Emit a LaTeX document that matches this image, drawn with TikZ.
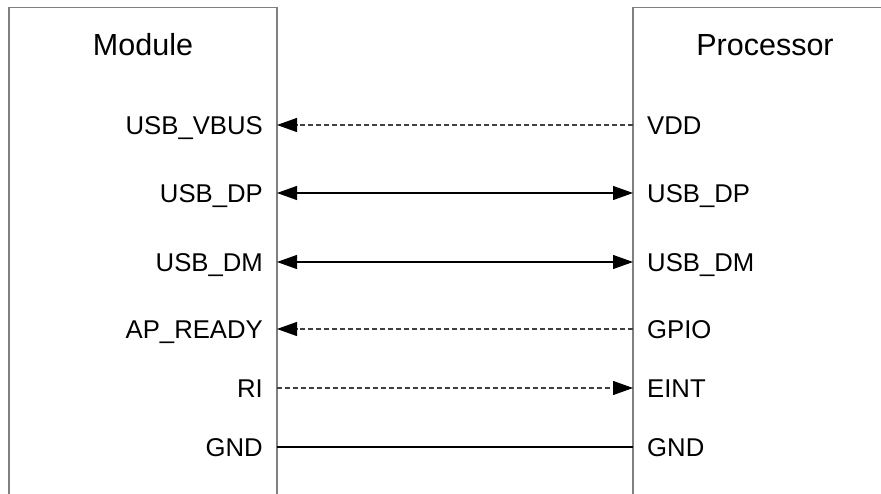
\documentclass[tikz,border=0pt]{standalone}
\usepackage{fontspec}
\setmainfont{Liberation Sans}
\usetikzlibrary{arrows.meta}
\begin{document}
\begin{tikzpicture}[x=1pt,y=-1pt,
  box/.style={draw=black!50,line width=1.6pt},
  pin/.style={font=\fontsize{25.7}{30}\selectfont,inner sep=0pt},
  title/.style={font=\fontsize{30.5}{36}\selectfont,inner sep=0pt},
  sig/.style={draw=black,line width=1.1pt},
  dsig/.style={draw=black!75,line width=1.1pt,dash pattern=on 5pt off 3pt},
  tip/.style={-{Triangle[length=20pt,width=14pt,black]}},
  bitip/.style={{Triangle[length=20pt,width=14pt,black]}-{Triangle[length=20pt,width=14pt,black]}}]
\useasboundingbox (0,0) rectangle (881,494);
\clip (0,0) rectangle (881,494);
\draw[box] (9,7.5) rectangle (277,520);
\draw[box] (633,7.5) rectangle (900,520);
\node[title] (mod) at (143,45) {Module};
\node[title] (proc) at (765,45) {Processor};
% pin points
\foreach \n/\y in {vbus/125,dp/193,dm/262,apr/329,ri/388,gnd/447}{
  \coordinate (L\n) at (277,\y);
  \coordinate (R\n) at (633,\y);
}
% left labels
\node[pin,anchor=east] (lvbus) at (263,128) {USB\_VBUS};
\node[pin,anchor=east] (ldp) at (263,196) {USB\_DP};
\node[pin,anchor=east] (ldm) at (263,265) {USB\_DM};
\node[pin,anchor=east] (lapr) at (263,332) {AP\_READY};
\node[pin,anchor=east] (lri) at (263,389) {RI};
\node[pin,anchor=east] (lgnd) at (263,448) {GND};
% right labels
\node[pin,anchor=west] (rvdd) at (647,126) {VDD};
\node[pin,anchor=west] (rdp) at (647,196) {USB\_DP};
\node[pin,anchor=west] (rdm) at (647,265) {USB\_DM};
\node[pin,anchor=west] (rgpio) at (647,330) {GPIO};
\node[pin,anchor=west] (reint) at (647,389) {EINT};
\node[pin,anchor=west] (rgnd) at (647,448) {GND};
% connectors
\draw[dsig,tip] (Rvbus) -- (Lvbus);
\draw[sig,bitip] (Ldp) -- (Rdp);
\draw[sig,bitip] (Ldm) -- (Rdm);
\draw[dsig,tip] (Rapr) -- (Lapr);
\draw[dsig,tip] (Lri) -- (Rri);
\draw[sig] (Lgnd) -- (Rgnd);
\end{tikzpicture}
\end{document}
